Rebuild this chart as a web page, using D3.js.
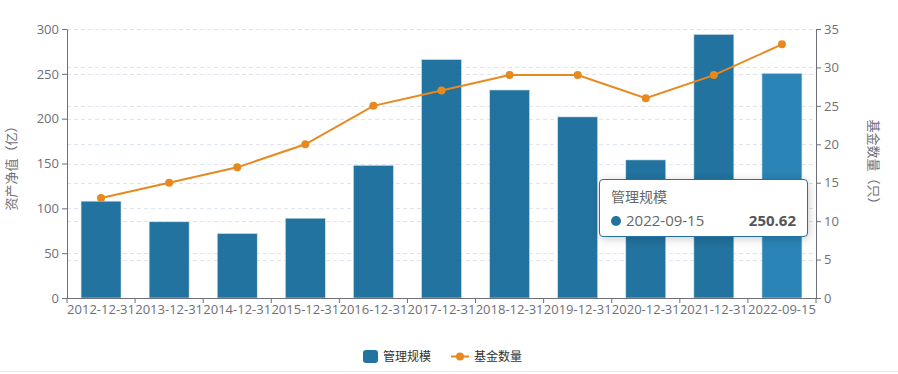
<!DOCTYPE html>
<html>
<head>
<meta charset="utf-8">
<style>
  body { margin: 0; background: #fff; font-family: "Noto Sans CJK SC", "Open Sans", sans-serif; }
  .tick text { fill: #6e7079; font-size: 13px; font-family: "Open Sans", sans-serif; }
  .grid line { stroke: #e0e6f1; stroke-dasharray: 4 3; }
  .tip { position: absolute; left: 599px; top: 179px; width: 209px; height: 58px; box-sizing: border-box;
    background: #fff; border: 1px solid #23729f; border-radius: 4px; box-shadow: 1px 2px 10px rgba(0,0,0,0.2);
    font-size: 14px; color: #666; padding: 6px 11px; }
</style>
</head>
<body>
<svg id="chart" width="898" height="374"></svg>
<div class="tip">
  <div style="line-height:20px">管理规模</div>
  <div style="line-height:22px; margin-top:3px; font-size:15px; font-family:'Open Sans',sans-serif">
    <span style="display:inline-block;width:10px;height:10px;border-radius:5px;background:#23729f;margin-right:5px"></span>2022-09-15
    <span style="float:right;font-weight:bold;color:#555">250.62</span>
  </div>
</div>
<script src="https://cdn.jsdelivr.net/npm/d3@7"></script>
<script>
  var dates = ["2012-12-31", "2013-12-31", "2014-12-31", "2015-12-31", "2016-12-31", "2017-12-31",
    "2018-12-31", "2019-12-31", "2020-12-31", "2021-12-31", "2022-09-15"];
  var scale = [108, 85, 72, 89, 148, 266, 232, 202, 154, 294, 250.62];
  var fundCount = [13, 15, 17, 20, 25, 27, 29, 29, 26, 29, 33];
  var leftTicks = [0, 50, 100, 150, 200, 250, 300];
  var rightTicks = [0, 5, 10, 15, 20, 25, 30, 35];

  var svg = d3.select("#chart");
  var pLeft = 67, pRight = 816, pTop = 29, pBottom = 298;

  var x = d3.scaleBand().domain(dates).range([pLeft, pRight]);
  var yL = d3.scaleLinear().domain([0, 300]).range([pBottom, pTop]);
  var yR = d3.scaleLinear().domain([0, 35]).range([pBottom, pTop]);

  // dashed grid for both axes
  svg.append("g").attr("class", "grid").selectAll("line")
    .data(leftTicks.slice(1)).enter().append("line")
    .attr("x1", pLeft).attr("x2", pRight)
    .attr("y1", function (d) { return Math.round(yL(d)) + 0.5; }).attr("y2", function (d) { return Math.round(yL(d)) + 0.5; });
  svg.append("g").attr("class", "grid").selectAll("line")
    .data(rightTicks.slice(1)).enter().append("line")
    .attr("x1", pLeft).attr("x2", pRight)
    .attr("y1", function (d) { return Math.round(yR(d)) + 0.5; }).attr("y2", function (d) { return Math.round(yR(d)) + 0.5; });

  // bars
  var bw = 40;
  svg.append("g").selectAll("rect")
    .data(scale).enter().append("rect")
    .attr("x", function (d, i) { return x(dates[i]) + x.bandwidth() / 2 - bw / 2; })
    .attr("y", function (d) { return yL(d); })
    .attr("width", bw)
    .attr("height", function (d) { return pBottom - yL(d); })
    .attr("fill", function (d, i) { return i === dates.length - 1 ? "#2a84b6" : "#22739f"; })
    .attr("stroke", "#d6e6ef").attr("stroke-width", 0.6);

  // axes
  function styleAxis(g) {
    g.selectAll(".domain").attr("stroke", "#6e7079");
    g.selectAll(".tick line").attr("stroke", "#6e7079");
  }
  svg.append("g").attr("transform", "translate(" + pLeft + ",0)")
    .call(d3.axisLeft(yL).tickValues(leftTicks).tickSize(5).tickSizeOuter(0).tickPadding(3))
    .call(styleAxis);
  svg.append("g").attr("transform", "translate(" + pRight + ",0)")
    .call(d3.axisRight(yR).tickValues(rightTicks).tickSize(5).tickSizeOuter(0).tickPadding(3))
    .call(styleAxis);
  var xAxis = svg.append("g").attr("transform", "translate(0," + pBottom + ")")
    .call(d3.axisBottom(x).tickSize(0).tickPadding(7))
    .call(styleAxis);
  xAxis.selectAll(".domain").attr("d", "M" + pLeft + ",0.5H" + pRight);
  // boundary ticks between categories
  xAxis.selectAll(".bound").data(d3.range(dates.length + 1)).enter().append("line")
    .attr("x1", function (i) { return pLeft + i * x.step(); })
    .attr("x2", function (i) { return pLeft + i * x.step(); })
    .attr("y1", 0).attr("y2", 5).attr("stroke", "#6e7079");

  // line series
  var line = d3.line()
    .x(function (d, i) { return x(dates[i]) + x.bandwidth() / 2; })
    .y(function (d) { return yR(d); });
  svg.append("path").datum(fundCount)
    .attr("d", line).attr("fill", "none").attr("stroke", "#e8891f").attr("stroke-width", 2);
  svg.append("g").selectAll("circle")
    .data(fundCount).enter().append("circle")
    .attr("cx", function (d, i) { return x(dates[i]) + x.bandwidth() / 2; })
    .attr("cy", function (d) { return yR(d); })
    .attr("r", 4).attr("fill", "#e8891f");

  // axis titles
  svg.append("text").attr("transform", "translate(16,165) rotate(-90)")
    .attr("text-anchor", "middle").attr("fill", "#6e7079").style("font-size", "13px")
    .text("资产净值（亿）");
  svg.append("text").attr("transform", "translate(869,165) rotate(90)")
    .attr("text-anchor", "middle").attr("fill", "#6e7079").style("font-size", "13px")
    .text("基金数量（只）");

  // legend
  var lg = svg.append("g").style("font-size", "12px");
  lg.append("rect").attr("x", 363).attr("y", 350).attr("width", 15).attr("height", 13).attr("rx", 3).attr("fill", "#22739f");
  lg.append("text").attr("x", 383).attr("y", 361).attr("fill", "#333").text("管理规模");
  lg.append("line").attr("x1", 451).attr("x2", 469).attr("y1", 356.5).attr("y2", 356.5).attr("stroke", "#e8891f").attr("stroke-width", 2);
  lg.append("circle").attr("cx", 460).attr("cy", 356.5).attr("r", 4).attr("fill", "#e8891f");
  lg.append("text").attr("x", 474).attr("y", 361).attr("fill", "#333").text("基金数量");

  svg.append("line").attr("x1", 0).attr("x2", 898).attr("y1", 371.5).attr("y2", 371.5).attr("stroke", "#e8e8e8");
</script>
</body>
</html>
